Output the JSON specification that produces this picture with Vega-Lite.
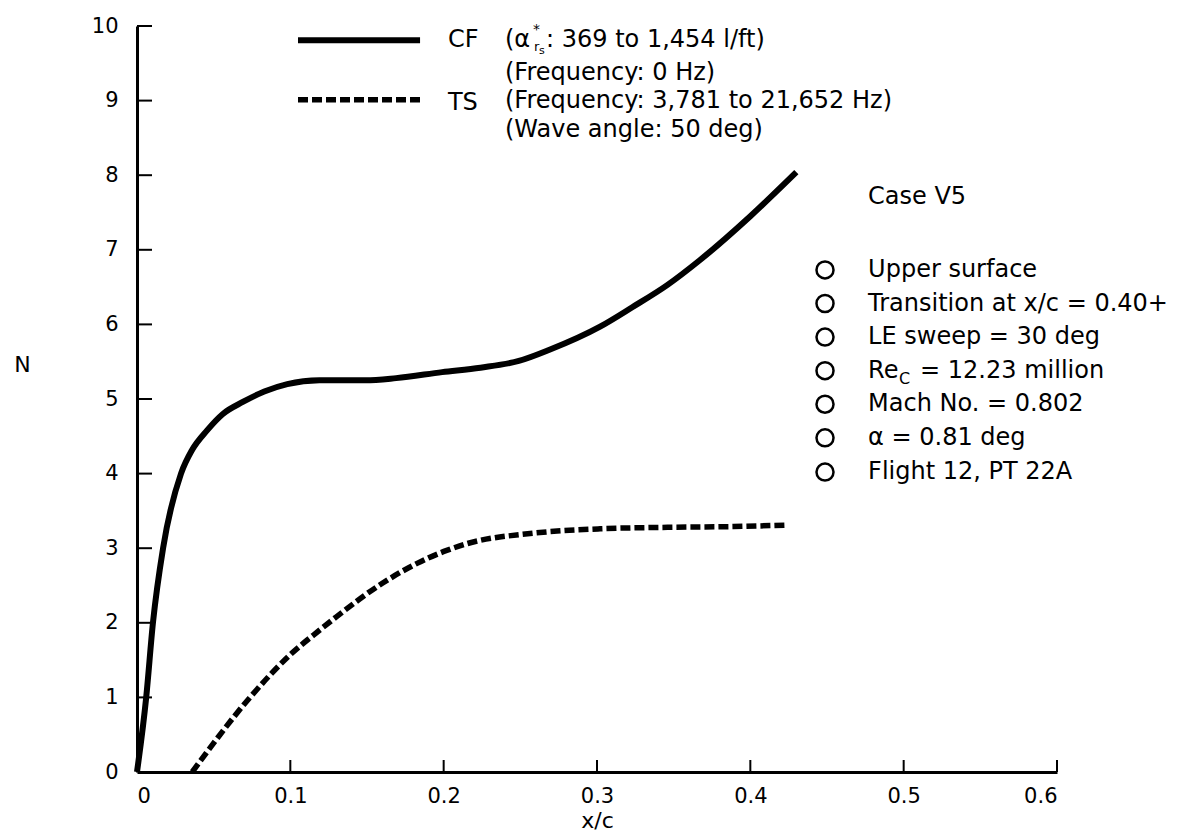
{
  "$schema": "https://vega.github.io/schema/vega-lite/v6.json",
  "width": 920,
  "height": 746,
  "autosize": {"type": "none"},
  "padding": {"left": 137, "top": 26, "right": 123, "bottom": 64},
  "background": "white",
  "config": {"view": {"stroke": null}, "font": "DejaVu Sans"},
  "datasets": {
    "curves": [
      {"series": "CF", "x": 0, "y": 0},
      {"series": "CF", "x": 0.006, "y": 1.0},
      {"series": "CF", "x": 0.0104, "y": 2.0},
      {"series": "CF", "x": 0.017, "y": 3.0},
      {"series": "CF", "x": 0.0287, "y": 4.0},
      {"series": "CF", "x": 0.036, "y": 4.32},
      {"series": "CF", "x": 0.0457, "y": 4.58},
      {"series": "CF", "x": 0.056, "y": 4.8},
      {"series": "CF", "x": 0.069, "y": 4.96},
      {"series": "CF", "x": 0.083, "y": 5.1},
      {"series": "CF", "x": 0.098, "y": 5.2},
      {"series": "CF", "x": 0.119, "y": 5.25},
      {"series": "CF", "x": 0.149, "y": 5.25},
      {"series": "CF", "x": 0.169, "y": 5.28},
      {"series": "CF", "x": 0.199, "y": 5.36},
      {"series": "CF", "x": 0.224, "y": 5.42},
      {"series": "CF", "x": 0.249, "y": 5.51},
      {"series": "CF", "x": 0.269, "y": 5.66},
      {"series": "CF", "x": 0.302, "y": 5.97},
      {"series": "CF", "x": 0.323, "y": 6.23},
      {"series": "CF", "x": 0.346, "y": 6.53},
      {"series": "CF", "x": 0.367, "y": 6.86},
      {"series": "CF", "x": 0.4, "y": 7.45},
      {"series": "CF", "x": 0.43, "y": 8.04},
      {"series": "TS", "x": 0.036, "y": 0},
      {"series": "TS", "x": 0.0737, "y": 1.0},
      {"series": "TS", "x": 0.0998, "y": 1.57},
      {"series": "TS", "x": 0.119, "y": 1.9},
      {"series": "TS", "x": 0.13, "y": 2.08},
      {"series": "TS", "x": 0.16, "y": 2.53},
      {"series": "TS", "x": 0.183, "y": 2.8},
      {"series": "TS", "x": 0.202, "y": 2.97},
      {"series": "TS", "x": 0.215, "y": 3.06},
      {"series": "TS", "x": 0.258, "y": 3.2},
      {"series": "TS", "x": 0.302, "y": 3.26},
      {"series": "TS", "x": 0.346, "y": 3.28},
      {"series": "TS", "x": 0.389, "y": 3.29},
      {"series": "TS", "x": 0.424, "y": 3.31}
    ],
    "keyLines": [
      {"series": "CF", "x": 0.105, "y": 9.81},
      {"series": "CF", "x": 0.1846, "y": 9.81},
      {"series": "TS", "x": 0.105, "y": 9.01},
      {"series": "TS", "x": 0.1846, "y": 9.01}
    ],
    "ticksX": [
      {"x": 0.1, "y": 0}, {"x": 0.2, "y": 0}, {"x": 0.3, "y": 0},
      {"x": 0.4, "y": 0}, {"x": 0.5, "y": 0}, {"x": 0.6, "y": 0}
    ],
    "ticksY": [
      {"x": 0, "y": 1}, {"x": 0, "y": 2}, {"x": 0, "y": 3}, {"x": 0, "y": 4}, {"x": 0, "y": 5},
      {"x": 0, "y": 6}, {"x": 0, "y": 7}, {"x": 0, "y": 8}, {"x": 0, "y": 9}, {"x": 0, "y": 10}
    ],
    "labels": [
      {"role": "main", "x": 0.2028, "y": 9.81, "text": "CF"},
      {"role": "main", "x": 0.24, "y": 9.81, "text": "(α"},
      {"role": "sup", "x": 0.24, "y": 9.81, "text": "*"},
      {"role": "sub", "x": 0.24, "y": 9.81, "text": "r"},
      {"role": "subsub", "x": 0.24, "y": 9.81, "text": "s"},
      {"role": "tail", "x": 0.24, "y": 9.81, "text": ": 369 to 1,454 l/ft)"},
      {"role": "main", "x": 0.24, "y": 9.37, "text": "(Frequency: 0 Hz)"},
      {"role": "main", "x": 0.2028, "y": 8.97, "text": "TS"},
      {"role": "main", "x": 0.24, "y": 9.0, "text": "(Frequency: 3,781 to 21,652 Hz)"},
      {"role": "main", "x": 0.24, "y": 8.6, "text": "(Wave angle: 50 deg)"},
      {"role": "main", "x": 0.4768, "y": 7.71, "text": "Case V5"},
      {"role": "main", "x": 0.4768, "y": 6.73, "text": "Upper surface"},
      {"role": "main", "x": 0.4768, "y": 6.28, "text": "Transition at x/c = 0.40+"},
      {"role": "main", "x": 0.4768, "y": 5.83, "text": "LE sweep = 30 deg"},
      {"role": "main", "x": 0.4768, "y": 5.38, "text": "Re"},
      {"role": "resub", "x": 0.4768, "y": 5.38, "text": "C"},
      {"role": "retail", "x": 0.4768, "y": 5.38, "text": "= 12.23 million"},
      {"role": "main", "x": 0.4768, "y": 4.93, "text": "Mach No. = 0.802"},
      {"role": "main", "x": 0.4768, "y": 4.48, "text": "α = 0.81 deg"},
      {"role": "main", "x": 0.4768, "y": 4.02, "text": "Flight 12, PT 22A"}
    ],
    "bullets": [
      {"x": 0.4487, "y": 6.73},
      {"x": 0.4487, "y": 6.28},
      {"x": 0.4487, "y": 5.83},
      {"x": 0.4487, "y": 5.38},
      {"x": 0.4487, "y": 4.93},
      {"x": 0.4487, "y": 4.48},
      {"x": 0.4487, "y": 4.02}
    ]
  },
  "encoding": {
    "x": {
      "field": "x", "type": "quantitative",
      "scale": {"domain": [0, 0.6], "nice": false, "zero": false},
      "axis": {
        "values": [0, 0.1, 0.2, 0.3, 0.4, 0.5, 0.6], "format": "~g",
        "title": "x/c", "grid": false, "ticks": false,
        "domainWidth": 3, "domainColor": "black",
        "labelFont": "DejaVu Sans", "labelFontSize": 21, "labelColor": "black", "labelPadding": 13,
        "titleFont": "DejaVu Sans", "titleFontSize": 22, "titleFontWeight": "normal", "titleColor": "black", "titlePadding": 4
      }
    },
    "y": {
      "field": "y", "type": "quantitative",
      "scale": {"domain": [0, 10], "nice": false, "zero": false},
      "axis": {
        "values": [0, 1, 2, 3, 4, 5, 6, 7, 8, 9, 10],
        "title": "N", "grid": false, "ticks": false,
        "domainWidth": 3, "domainColor": "black",
        "labelFont": "DejaVu Sans", "labelFontSize": 21, "labelColor": "black", "labelPadding": 19,
        "titleFont": "DejaVu Sans", "titleFontSize": 22, "titleFontWeight": "normal", "titleColor": "black",
        "titleAngle": 0, "titleX": -115, "titleY": 338, "titleAlign": "center", "titleBaseline": "middle"
      }
    }
  },
  "layer": [
    {
      "data": {"name": "ticksX"},
      "mark": {"type": "tick", "orient": "vertical", "color": "black", "thickness": 2, "size": 12, "yOffset": -6, "opacity": 1}
    },
    {
      "data": {"name": "ticksY"},
      "mark": {"type": "tick", "orient": "horizontal", "color": "black", "thickness": 2, "size": 15, "xOffset": 7.5, "opacity": 1}
    },
    {
      "data": {"name": "curves"},
      "transform": [{"filter": "datum.series === 'CF'"}],
      "mark": {"type": "line", "color": "black", "strokeWidth": 6, "interpolate": "monotone", "strokeCap": "butt"},
      "encoding": {"order": {"field": "x", "type": "quantitative"}}
    },
    {
      "data": {"name": "curves"},
      "transform": [{"filter": "datum.series === 'TS'"}],
      "mark": {"type": "line", "color": "black", "strokeWidth": 5.5, "interpolate": "monotone", "strokeDash": [10, 4], "strokeCap": "butt"},
      "encoding": {"order": {"field": "x", "type": "quantitative"}}
    },
    {
      "data": {"name": "keyLines"},
      "transform": [{"filter": "datum.series === 'CF'"}],
      "mark": {"type": "line", "color": "black", "strokeWidth": 6, "strokeCap": "butt"},
      "encoding": {}
    },
    {
      "data": {"name": "keyLines"},
      "transform": [{"filter": "datum.series === 'TS'"}],
      "mark": {"type": "line", "color": "black", "strokeWidth": 5.5, "strokeDash": [10, 4], "strokeCap": "butt"},
      "encoding": {}
    },
    {
      "data": {"name": "bullets"},
      "mark": {"type": "point", "shape": "circle", "filled": false, "stroke": "black", "strokeWidth": 2.5, "size": 290, "opacity": 1}
    },
    {
      "data": {"name": "labels"},
      "transform": [{"filter": "datum.role === 'main'"}],
      "mark": {"type": "text", "align": "left", "baseline": "middle", "font": "DejaVu Sans", "fontSize": 24, "color": "black"},
      "encoding": {"text": {"field": "text"}}
    },
    {
      "data": {"name": "labels"},
      "transform": [{"filter": "datum.role === 'sup'"}],
      "mark": {"type": "text", "align": "left", "baseline": "middle", "font": "DejaVu Sans", "fontSize": 14, "color": "black", "dx": 28, "dy": -10},
      "encoding": {"text": {"field": "text"}}
    },
    {
      "data": {"name": "labels"},
      "transform": [{"filter": "datum.role === 'sub'"}],
      "mark": {"type": "text", "align": "left", "baseline": "middle", "font": "DejaVu Sans", "fontSize": 13, "color": "black", "dx": 29, "dy": 7},
      "encoding": {"text": {"field": "text"}}
    },
    {
      "data": {"name": "labels"},
      "transform": [{"filter": "datum.role === 'subsub'"}],
      "mark": {"type": "text", "align": "left", "baseline": "middle", "font": "DejaVu Sans", "fontSize": 11, "color": "black", "dx": 34, "dy": 11},
      "encoding": {"text": {"field": "text"}}
    },
    {
      "data": {"name": "labels"},
      "transform": [{"filter": "datum.role === 'tail'"}],
      "mark": {"type": "text", "align": "left", "baseline": "middle", "font": "DejaVu Sans", "fontSize": 24, "color": "black", "dx": 41},
      "encoding": {"text": {"field": "text"}}
    },
    {
      "data": {"name": "labels"},
      "transform": [{"filter": "datum.role === 'resub'"}],
      "mark": {"type": "text", "align": "left", "baseline": "middle", "font": "DejaVu Sans", "fontSize": 16, "color": "black", "dx": 31, "dy": 8},
      "encoding": {"text": {"field": "text"}}
    },
    {
      "data": {"name": "labels"},
      "transform": [{"filter": "datum.role === 'retail'"}],
      "mark": {"type": "text", "align": "left", "baseline": "middle", "font": "DejaVu Sans", "fontSize": 24, "color": "black", "dx": 52},
      "encoding": {"text": {"field": "text"}}
    }
  ]
}
